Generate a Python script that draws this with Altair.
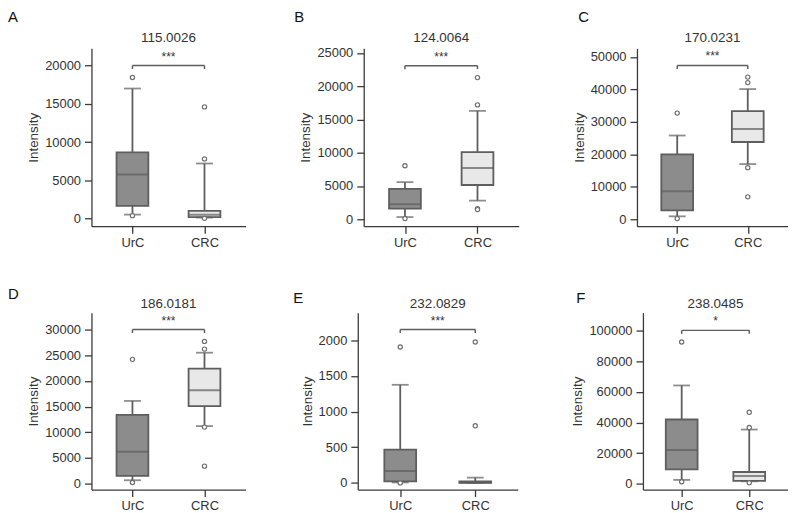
import altair as alt
import pandas as pd

GROUPS = ["UrC", "CRC"]
LETTERS = ["A", "B", "C", "D", "E", "F"]
TITLES = ["115.0026", "124.0064", "170.0231", "186.0181", "232.0829", "238.0485"]
SIGNIF = ["***", "***", "***", "***", "***", "*"]

# per panel: [UrC, CRC]
LOWER = [[520, 130], [330, 2800], [900, 17000], [650, 11200], [6, 0], [2400, 1500]]
Q1 = [[1650, 200], [1600, 5150], [2750, 23800], [1500, 15100], [20, 0], [9300, 1800]]
MEDIAN = [[5750, 500], [2250, 7700], [8600, 27800], [6200, 18200], [168, 4], [22000, 4900]]
Q3 = [[8650, 1000], [4580, 10100], [20000, 33300], [13400, 22400], [465, 22], [42000, 7600]]
UPPER = [[17000, 7200], [5580, 16300], [25800, 40100], [16100, 25500], [1375, 74], [64300, 35400]]
OUT_URC = [[18450, 380], [8050, 100], [32700, 200], [24200, 200], [1905, 0], [92800, 1200]]
OUT_CRC = [[14600, 7800, 30], [21300, 17200, 1600, 1450], [43800, 42100, 15900, 6900],
           [27700, 26200, 11000, 3400], [1975, 800], [46700, 36700, 500]]
BRACKET = [20000, 23100, 47400, 30000, 2150, 100400]
Y_DOMAIN = [[-1000, 22250], [-1050, 25700], [-2150, 52650], [-1160, 33300], [-93, 2386], [-3900, 112000]]
Y_TICKS = [list(range(0, 20001, 5000)), list(range(0, 25001, 5000)), list(range(0, 50001, 10000)),
           list(range(0, 30001, 5000)), list(range(0, 2001, 500)), list(range(0, 100001, 20000))]

FILLS = ["#8c8c8c", "#e8e8e8"]
EDGE = "#5e5e5e"
AXIS = "#3a3a3a"
TEXT = "#333333"
FONT = "Liberation Sans"

WIDTHS = [155, 156, 152, 155, 161, 146]
HEIGHTS = [179, 179, 179, 178, 178, 178]
PAD_LEFT = [84, 119, 119, 84, 113, 126]
LETTER_X = [-84, -70, -59, -84, -65, -67]
LETTER_Y = [-39, -39, -39, -26, -22, -22]
TITLE_Y = [-6, -6, -6, -5, -5, -5]


def panel(i):
    w, h = WIDTHS[i], HEIGHTS[i]
    box_df = pd.DataFrame({
        "pos": [0, 1], "group": GROUPS, "lo": LOWER[i], "q1": Q1[i], "med": MEDIAN[i],
        "q3": Q3[i], "hi": UPPER[i], "fill": FILLS,
    })
    out_rows = [{"pos": 0, "v": v} for v in OUT_URC[i]] + [{"pos": 1, "v": v} for v in OUT_CRC[i]]
    out_df = pd.DataFrame(out_rows)
    span = Y_DOMAIN[i][1] - Y_DOMAIN[i][0]
    leg = span * 3.5 / h
    br_df = pd.DataFrame({"x0": [0], "x1": [1], "mid": [0.5], "b": [BRACKET[i]], "sig": [SIGNIF[i]],
                          "title": [TITLES[i]], "letter": [LETTERS[i]]})
    leg_df = pd.DataFrame({"pos": [0, 1], "b": [BRACKET[i]] * 2, "bl": [BRACKET[i] - leg] * 2})

    xscale = alt.Scale(domain=[-0.5, 1.5], nice=False, zero=False)
    yscale = alt.Scale(domain=Y_DOMAIN[i], nice=False, zero=False)
    xaxis = alt.Axis(values=[0, 1], labelExpr=f"datum.value == 0 ? '{GROUPS[0]}' : '{GROUPS[1]}'",
                     title=None, grid=False, tickSize=7, labelPadding=3, labelFontSize=13,
                     labelColor=TEXT, domainColor=AXIS, tickColor=AXIS, domainWidth=1.3, tickWidth=1.3,
                     labelFont=FONT)
    yaxis = alt.Axis(values=Y_TICKS[i], format="d", title="Intensity", grid=False, tickSize=7,
                     labelPadding=4, labelFontSize=13, labelColor=TEXT, domainColor=AXIS, tickColor=AXIS,
                     domainWidth=1.3, tickWidth=1.3, titleFontSize=13.5, titleFontWeight="normal",
                     titleColor=TEXT, titlePadding=4, labelFont=FONT, titleFont=FONT)

    def X(f):
        return alt.X(f, scale=xscale, axis=xaxis)

    def Y(f):
        return alt.Y(f, scale=yscale, axis=yaxis)

    base = alt.Chart(box_df)
    whisk = base.mark_rule(color=EDGE, strokeWidth=1.8).encode(x=X("pos:Q"), y=Y("lo:Q"), y2="hi:Q")
    box = base.mark_bar(size=32, stroke=EDGE, strokeWidth=1.8).encode(
        x=X("pos:Q"), y=Y("q1:Q"), y2="q3:Q", fill=alt.Fill("fill:N", scale=None))
    med = base.mark_tick(orient="horizontal", size=32, thickness=2, color=EDGE).encode(x=X("pos:Q"), y=Y("med:Q"))
    cap_lo = base.mark_tick(orient="horizontal", size=17, thickness=1.8, color=EDGE).encode(x=X("pos:Q"), y=Y("lo:Q"))
    cap_hi = base.mark_tick(orient="horizontal", size=17, thickness=1.8, color=EDGE).encode(x=X("pos:Q"), y=Y("hi:Q"))
    outs = alt.Chart(out_df).mark_point(shape="circle", size=18, filled=True, fill="white", stroke="#6e6e6e",
                                        strokeWidth=1.2, opacity=1).encode(x=X("pos:Q"), y=Y("v:Q"))
    bracket = alt.Chart(br_df).mark_rule(color=EDGE, strokeWidth=1.5).encode(x=X("x0:Q"), x2="x1:Q", y=Y("b:Q"))
    legs = alt.Chart(leg_df).mark_rule(color=EDGE, strokeWidth=1.5).encode(x=X("pos:Q"), y=Y("b:Q"), y2="bl:Q")
    stars = alt.Chart(br_df).mark_text(dy=-9, fontSize=12, color=TEXT, font=FONT).encode(
        x=X("mid:Q"), y=Y("b:Q"), text="sig:N")
    title = alt.Chart(br_df).mark_text(fontSize=13.5, color=TEXT, font=FONT, baseline="alphabetic").encode(
        x=X("mid:Q"), y=alt.value(TITLE_Y[i]), text="title:N")
    letter = alt.Chart(br_df).mark_text(align="left", baseline="top", fontSize=15, color="#111111",
                                        font=FONT).encode(
        x=alt.value(LETTER_X[i]), y=alt.value(LETTER_Y[i]), text="letter:N")
    pad = alt.Chart(br_df).mark_rule(opacity=0, strokeOpacity=0).encode(
        x=alt.value(-PAD_LEFT[i]), y=alt.value(0), y2=alt.value(10))

    return alt.layer(whisk, box, med, cap_lo, cap_hi, outs, bracket, legs, stars, title, letter, pad).properties(
        width=w, height=h)


row1 = alt.hconcat(panel(0), panel(1), panel(2), spacing=0)
row2 = alt.hconcat(panel(3), panel(4), panel(5), spacing=0)
chart = alt.vconcat(row1, row2, spacing=38).properties(
    padding={"left": 0, "top": 0, "right": 0, "bottom": 0}
).configure(font=FONT, view=alt.ViewConfig(stroke=None))

chart.save("out.html", embed_options={"renderer": "svg", "actions": False})
